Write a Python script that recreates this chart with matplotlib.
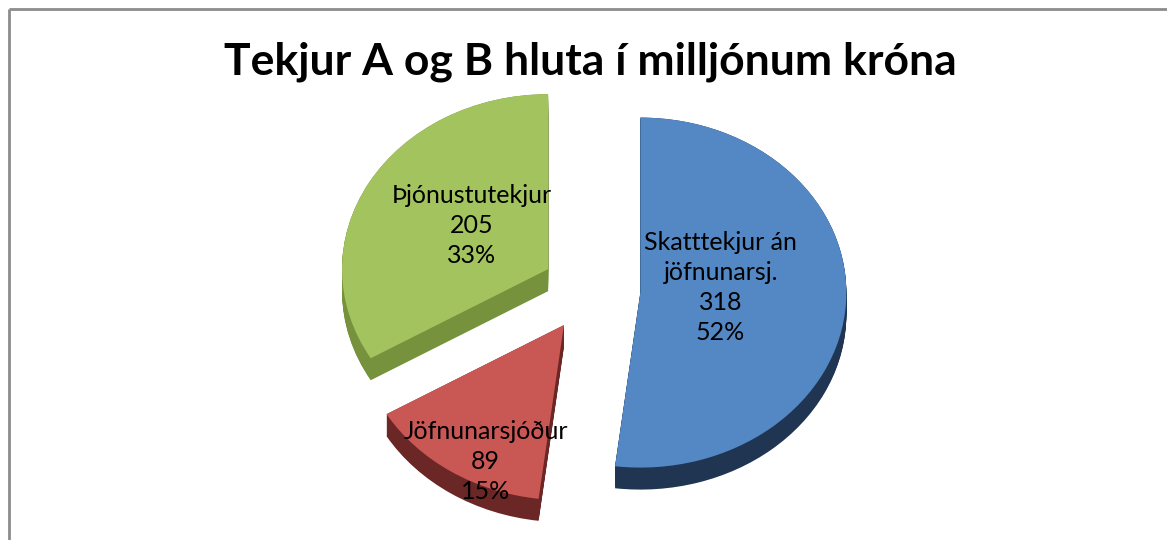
import matplotlib.pyplot as plt
import numpy as np

# data
names = ["Skatttekjur án\njöfnunarsj.", "Jöfnunarsjóður", "Þjónustutekjur"]
values = [318, 89, 205]
top_colors = ["#5388C5", "#C95855", "#A2C35E"]
side_colors = ["#1F3552", "#6B2626", "#76923C"]
explode = [0.24, 0.24, 0.24]
# label centre relative to each wedge's apex, in radius units
label_offset = [(0.39, 0.03), (-0.38, -0.78), (-0.37, 0.25)]

W, H = 1167, 540
fig = plt.figure(figsize=(W / 100, H / 100), dpi=100)
fig.patch.set_facecolor("white")

# frame: top and left gray lines only
frame = fig.add_axes([0, 0, 1, 1])
frame.set_xlim(0, W)
frame.set_ylim(H, 0)
frame.axis("off")
frame.plot([9, W], [9, 9], color="#8C8C8C", lw=2, solid_capstyle="butt")
frame.plot([9, 9], [9, H], color="#8C8C8C", lw=2, solid_capstyle="butt")

frame.text(590, 62, "Tekjur A og B hluta í milljónum króna", ha="center", va="center",
           fontsize=32, fontweight="bold", family="Lato", color="black")

# pie axes: ellipse with rx=206 px, ry=175 px, centred at (591, 290)
rx, ry = 206, 175
cx, cy = 591, 290
span = 1.5
ax = fig.add_axes([(cx - span * rx) / W, (H - cy - span * ry) / H,
                   2 * span * rx / W, 2 * span * ry / H])
ax.axis("off")

depth = 22 / ry
for d in np.linspace(depth, 0, 24):
    ax.pie(values, explode=explode, colors=side_colors, startangle=90,
           counterclock=False, center=(0, -d), wedgeprops=dict(linewidth=0))

wedges, _ = ax.pie(values, explode=explode, colors=top_colors, startangle=90,
                   counterclock=False, wedgeprops=dict(linewidth=0))

total = sum(values)
for w, name, v, off in zip(wedges, names, values, label_offset):
    x = w.center[0] + off[0]
    y = w.center[1] + off[1]
    ax.text(x, y, f"{name}\n{v}\n{round(100 * v / total)}%", ha="center", va="center",
            fontsize=18, family="Lato", linespacing=1.38, color="black")

ax.set_aspect("auto")
ax.set_xlim(-span, span)
ax.set_ylim(-span, span)

fig.savefig("out.png", dpi=100)
